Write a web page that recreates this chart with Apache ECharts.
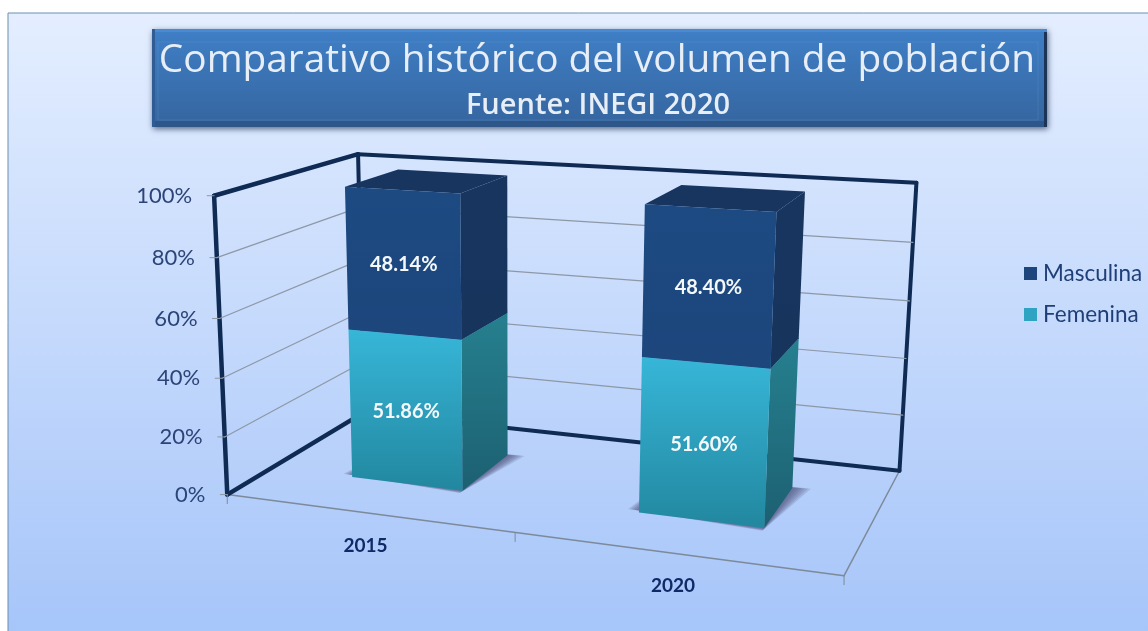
<!DOCTYPE html>
<html><head><meta charset="utf-8">
<style>html,body{margin:0;padding:0;background:#fff}#c{width:1148px;height:631px}</style>
<script src="https://cdn.jsdelivr.net/npm/echarts@6/dist/echarts.min.js"></script>
</head><body><div id="c"></div>
<script>
const categories = ['2015', '2020'];
const femenina = [51.86, 51.60];
const masculina = [48.14, 48.40];
const yTicks = [0, 20, 40, 60, 80, 100];
const titleText = 'Comparativo histórico del volumen de población';
const subtitleText = 'Fuente: INEGI 2020';

// Perspective camera calibration of the unit plot box: [u, v, w] -> screen
const cameraAnchors = [
  [0,0,0, 229,494],[0,1,0, 212,196],[0,0,1, 362,413],[0,1,1, 360,154],
  [1,0,1, 900,470],[1,1,1, 916,183],[1,0,0, 844,576],[.5,0,0, 515,533],[0,.6,0, 220,318]
];
function solveCamera(pts){
  const A=[],b=[];
  pts.forEach(p=>{const [X,Y,Z,x0,y0]=p,x=x0/1000,y=y0/1000;
    A.push([X,Y,Z,1,0,0,0,0,-x*X,-x*Y,-x*Z]);b.push(x);
    A.push([0,0,0,0,X,Y,Z,1,-y*X,-y*Y,-y*Z]);b.push(y);});
  const n=11,M=[];
  for(let i=0;i<n;i++){M[i]=[];for(let j=0;j<=n;j++){let s=0;
    for(let r=0;r<A.length;r++)s+=A[r][i]*(j<n?A[r][j]:b[r]);M[i][j]=s;}}
  for(let c=0;c<n;c++){let p=c;for(let r=c+1;r<n;r++)if(Math.abs(M[r][c])>Math.abs(M[p][c]))p=r;
    [M[c],M[p]]=[M[p],M[c]];
    for(let r=0;r<n;r++)if(r!==c){const f=M[r][c]/M[c][c];for(let j=c;j<=n;j++)M[r][j]-=f*M[c][j];}}
  return M.map((r,i)=>r[n]/r[i]);
}
const cam=solveCamera(cameraAnchors);
function project(u,v,w){
  const d=cam[8]*u+cam[9]*v+cam[10]*w+1;
  return [1000*(cam[0]*u+cam[1]*v+cam[2]*w+cam[3])/d,1000*(cam[4]*u+cam[5]*v+cam[6]*w+cam[7])/d];
}
const FONT='Lato, "Noto Sans", sans-serif';
const TITLE_FONT='"Open Sans", "Noto Sans", sans-serif';
const barHalf=0.40, depth0=0.30, depth1=0.70;

function toUV(params,api,cat,val){
  const cs=params.coordSys;const p=api.coord([cat,val]);
  return [(p[0]-cs.x)/cs.width,1-(p[1]-cs.y)/cs.height,api.size([1,0])[0]/cs.width];
}
const line=(a,b,stroke,w)=>({type:'line',shape:{x1:a[0],y1:a[1],x2:b[0],y2:b[1]},style:{stroke,lineWidth:w,lineCap:'round'}});
const poly=(pts,fill,extra)=>({type:'polygon',shape:{points:pts},style:Object.assign({fill},extra||{})});
const txt=(t,x,y,size,fill,weight,align)=>({type:'text',style:{text:t,x,y,fill,align:align||'center',verticalAlign:'middle',font:(weight||'normal')+' '+size+'px '+FONT}});
const grad=(a,b)=>new echarts.graphic.LinearGradient(0,0,0,1,[{offset:0,color:a},{offset:1,color:b}]);

function renderFrame(){
  const dark='#0f2b54',thin='#7d8a99';
  const P=project;
  return {type:'group',children:[
    line(P(0,0,0),P(1,0,0),thin,1.5),line(P(1,0,0),P(1,0,1),thin,1.5),
    line(P(0,0,0),P(0,1,0),dark,4.5),line(P(0,1,0),P(0,1,1),dark,4.5),
    line(P(0,1,1),P(1,1,1),dark,4),line(P(1,1,1),P(1,0,1),dark,4),
    line(P(1,0,1),P(0,0,1),dark,4),line(P(0,0,1),P(0,0,0),dark,4.5),
    line(P(0,1,1),P(0,0,1),dark,4)
  ].concat([0,.5,1].map(u=>{const a=P(u,0,0);return line(a,[a[0],a[1]+9],thin,1);}))};
}
function renderTick(params,api){
  const v=toUV(params,api,0,api.value(0))[1];
  const a=project(0,v,0),b=project(0,v,1),c=project(1,v,1);
  const kids=[line([a[0]-7,a[1]],a,'#8d98a6',1)];
  if(v>0.001&&v<0.999){kids.push(line(a,b,'#8d98a6',1.2),line(b,c,'#8d98a6',1.2));}
  kids.push(txt(yTicks[params.dataIndex]+'%',a[0]-22,a[1],22,'#2c4478','normal','right'));
  return {type:'group',children:kids};
}
function barBox(params,api,cat){
  const uv=toUV(params,api,cat,0);const hw=uv[2]*barHalf/2*1;
  return [uv[0]-hw,uv[0]+hw];
}
// Soft floor shadow: stacked translucent footprints of growing size
function renderShadow(params,api){
  const [u0,u1]=barBox(params,api,params.dataIndex);
  const kids=[];
  for(let k=6;k>=1;k--){
    const e=k*0.0035;
    kids.push(poly([project(u0-e,0,depth0+0.02),project(u1,0,depth0-e*1.2),project(u1+e*1.4,0,depth1+e*.6),project(u0,0,depth1)],'rgba(70,70,110,0.17)'));
  }
  return {type:'group',children:kids};
}
function renderCategory(params,api){
  const u=toUV(params,api,params.dataIndex,0)[0];
  const a=project(u,0,0);
  return txt(categories[params.dataIndex],a[0]-1,a[1]+33,19,'#0f2a66','bold');
}
function renderBar(colors){return function(params,api){
  const cat=api.value(0),lo=api.value(1),hi=api.value(2);
  const [u0,u1]=barBox(params,api,cat);
  const v0=toUV(params,api,cat,lo)[1],v1=toUV(params,api,cat,hi)[1];
  const f=[project(u0,v1,depth0),project(u1,v1,depth0),project(u1,v0,depth0),project(u0,v0,depth0)];
  const s=[project(u1,v1,depth0),project(u1,v1,depth1),project(u1,v0,depth1),project(u1,v0,depth0)];
  const t=[project(u0,v1,depth0),project(u0,v1,depth1),project(u1,v1,depth1),project(u1,v1,depth0)];
  const cx=(f[0][0]+f[1][0]+f[2][0]+f[3][0])/4,cy=(f[0][1]+f[1][1]+f[2][1]+f[3][1])/4;
  return {type:'group',children:[
    poly(s,grad(colors.side[0],colors.side[1])),
    poly(t,colors.top),
    poly(f,grad(colors.front[0],colors.front[1])),
    txt((hi-lo).toFixed(2)+'%',cx,cy+2.5,20,'#f4f8fa','bold')
  ]};
};}
const femRows=categories.map((c,i)=>[i,0,femenina[i]]);
const masRows=categories.map((c,i)=>[i,femenina[i],femenina[i]+masculina[i]]);
const chart=echarts.init(document.getElementById('c'),null,{renderer:'canvas'});
const quiet={silent:true,animation:false,clip:false,tooltip:{show:false}};
chart.setOption({
  animation:false,backgroundColor:'#ffffff',
  title:[
    {text:titleText,left:597,textAlign:'center',top:41,textStyle:{fontFamily:TITLE_FONT,fontSize:38.8,fontWeight:500,color:'#e8eef6'},padding:0,z:10},
    {text:subtitleText,left:598,textAlign:'center',top:91,textStyle:{fontFamily:TITLE_FONT,fontSize:29,fontWeight:600,color:'#e8eef6'},padding:0,z:10}
  ],
  legend:{orient:'vertical',left:1019,top:257,itemWidth:13,itemHeight:13,itemGap:18,icon:'rect',selectedMode:false,
    textStyle:{fontFamily:FONT,fontSize:22.5,color:'#1f3f78',padding:[0,0,0,1]},data:['Masculina','Femenina']},
  grid:{left:0,right:0,top:0,bottom:0},
  xAxis:{type:'category',data:categories,show:false},
  yAxis:{type:'value',min:0,max:100,interval:20,show:false},
  graphic:[
    {type:'rect',z:-10,shape:{x:8,y:13,width:1142,height:620},
      style:{fill:grad('#e4eeff','#a6c5f9'),stroke:'#6c8fb0',lineWidth:1}},
    {type:'rect',z:-9,shape:{x:152,y:29,width:895,height:98},
      style:{fill:grad('#3f7fc6','#35659f'),shadowBlur:6,shadowColor:'rgba(30,50,80,0.7)',shadowOffsetY:2,shadowOffsetX:1}},
    {type:'rect',z:-8,shape:{x:152,y:121,width:895,height:6},style:{fill:'#2f5688'}},
    {type:'rect',z:-8,shape:{x:1044,y:29,width:3,height:98},style:{fill:'#1c3556'}},
    {type:'rect',z:-8,shape:{x:152,y:29,width:895,height:3},style:{fill:'#4a8ad0'}},
    {type:'rect',z:-8,shape:{x:152,y:29,width:3,height:98},style:{fill:'#2f5c95'}},
    {type:'rect',z:-7,shape:{x:158,y:42,width:880,height:78},style:{fill:'transparent',stroke:'rgba(130,175,230,0.18)',lineWidth:1}}
  ],
  series:[
    Object.assign({type:'custom',name:'marco',z:1,data:[[0]],renderItem:renderFrame,coordinateSystem:'cartesian2d'},quiet),
    Object.assign({type:'custom',name:'escala',z:2,data:yTicks.map(t=>[t]),encode:{y:0},renderItem:renderTick},quiet),
    Object.assign({type:'custom',name:'etiquetas',z:2,data:categories.map((c,i)=>[i]),renderItem:renderCategory},quiet),
    Object.assign({type:'custom',name:'sombra',z:3,data:categories.map((c,i)=>[i]),renderItem:renderShadow},quiet),
    Object.assign({type:'custom',name:'Femenina',z:4,data:femRows,encode:{x:0,y:[1,2]},itemStyle:{color:'#2ea3c2'},
      renderItem:renderBar({front:['#37b6d8','#22879f'],side:['#26808f','#1c6072'],top:'#2b93ad'})},quiet),
    Object.assign({type:'custom',name:'Masculina',z:5,data:masRows,encode:{x:0,y:[1,2]},itemStyle:{color:'#1d477c'},
      renderItem:renderBar({front:['#1d4a82','#1c467c'],side:['#17355f','#16345c'],top:'#17355f'})},quiet)
  ]
});
</script></body></html>
